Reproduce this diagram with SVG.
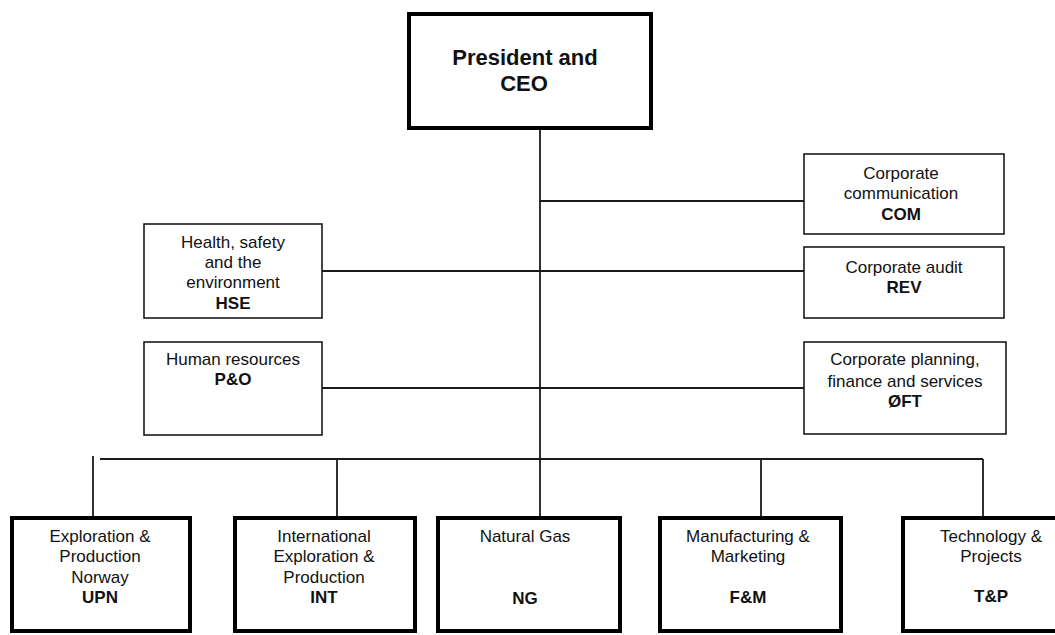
<svg xmlns="http://www.w3.org/2000/svg" width="1055" height="635" viewBox="0 0 1055 635">
  <style>
    text { font-family: "Liberation Sans", Arial, sans-serif; fill: #111; text-anchor: middle; }
    .t { font-size: 17px; }
    .b { font-weight: bold; }
    .ceo { font-size: 22px; font-weight: bold; }
    .thick { fill: #fff; stroke: #000; stroke-width: 4; }
    .thin { fill: #fff; stroke: #1a1a1a; stroke-width: 1.6; }
    .link { fill: none; stroke: #1a1a1a; stroke-width: 1.8; }
  </style>
  <rect width="1055" height="635" fill="#fff"/>

  <!-- connectors -->
  <g id="connectors" class="link">
    <line x1="540" y1="130" x2="540" y2="459"/>
    <line x1="540" y1="201" x2="804" y2="201"/>
    <line x1="322" y1="271" x2="804" y2="271"/>
    <line x1="322" y1="388" x2="804" y2="388"/>
    <line x1="100" y1="459" x2="983" y2="459"/>
    <line x1="93" y1="456" x2="93" y2="516"/>
    <line x1="337" y1="459" x2="337" y2="516"/>
    <line x1="540" y1="459" x2="540" y2="516"/>
    <line x1="761" y1="459" x2="761" y2="516"/>
    <line x1="983" y1="459" x2="983" y2="516"/>
  </g>

  <!-- top executive -->
  <g id="ceo">
    <rect class="thick" x="409" y="14" width="242" height="114"/>
    <text class="ceo" x="525" y="65">President and</text>
    <text class="ceo" x="524" y="91">CEO</text>
  </g>

  <!-- staff functions -->
  <g id="com">
    <rect class="thin" x="804" y="154" width="200" height="80"/>
    <text class="t" x="901" y="179">Corporate</text>
    <text class="t" x="901" y="199">communication</text>
    <text class="t b" x="901" y="220">COM</text>
  </g>
  <g id="hse">
    <rect class="thin" x="144" y="224" width="178" height="94"/>
    <text class="t" x="233" y="248">Health, safety</text>
    <text class="t" x="233" y="268">and the</text>
    <text class="t" x="233" y="288">environment</text>
    <text class="t b" x="233" y="309">HSE</text>
  </g>
  <g id="rev">
    <rect class="thin" x="804" y="247" width="200" height="71"/>
    <text class="t" x="904" y="273">Corporate audit</text>
    <text class="t b" x="904" y="293">REV</text>
  </g>
  <g id="po">
    <rect class="thin" x="144" y="342" width="178" height="93"/>
    <text class="t" x="233" y="365">Human resources</text>
    <text class="t b" x="233" y="385">P&amp;O</text>
  </g>
  <g id="oft">
    <rect class="thin" x="804" y="342" width="202" height="92"/>
    <text class="t" x="905" y="365">Corporate planning,</text>
    <text class="t" x="905" y="387">finance and services</text>
    <text class="t b" x="905" y="407">ØFT</text>
  </g>

  <!-- business areas -->
  <g id="upn">
    <rect class="thick" x="12" y="518" width="178" height="113"/>
    <text class="t" x="100" y="542">Exploration &amp;</text>
    <text class="t" x="100" y="562">Production</text>
    <text class="t" x="100" y="583">Norway</text>
    <text class="t b" x="100" y="603">UPN</text>
  </g>
  <g id="int">
    <rect class="thick" x="235" y="518" width="180" height="113"/>
    <text class="t" x="324" y="542">International</text>
    <text class="t" x="324" y="562">Exploration &amp;</text>
    <text class="t" x="324" y="583">Production</text>
    <text class="t b" x="324" y="603">INT</text>
  </g>
  <g id="ng">
    <rect class="thick" x="438" y="518" width="182" height="113"/>
    <text class="t" x="525" y="542">Natural Gas</text>
    <text class="t b" x="525" y="604">NG</text>
  </g>
  <g id="fm">
    <rect class="thick" x="660" y="518" width="181" height="113"/>
    <text class="t" x="748" y="542">Manufacturing &amp;</text>
    <text class="t" x="748" y="562">Marketing</text>
    <text class="t b" x="748" y="603">F&amp;M</text>
  </g>
  <g id="tp">
    <rect class="thick" x="903" y="518" width="180" height="113"/>
    <text class="t" x="991" y="542">Technology &amp;</text>
    <text class="t" x="991" y="562">Projects</text>
    <text class="t b" x="991" y="602">T&amp;P</text>
  </g>
</svg>
